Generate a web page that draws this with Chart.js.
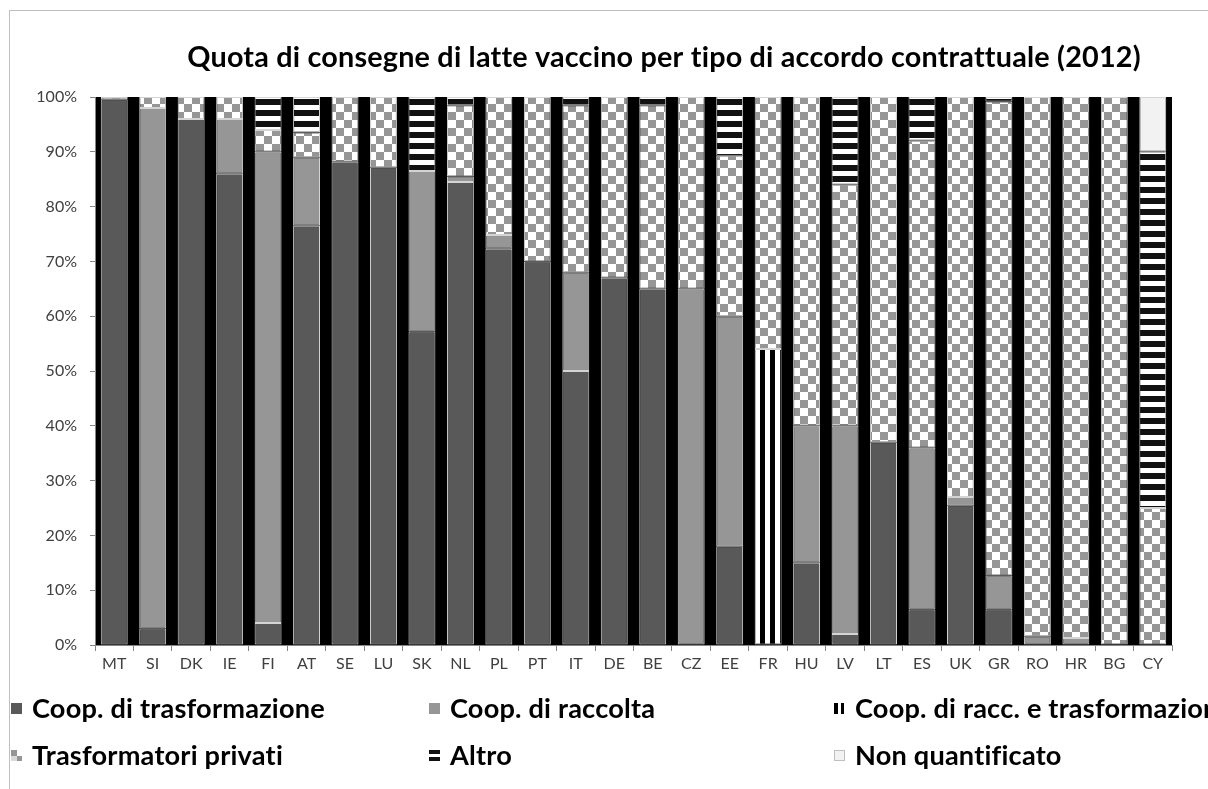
<!DOCTYPE html>
<html>
<head>
<meta charset="utf-8">
<script src="https://cdn.jsdelivr.net/npm/chart.js@4.4.1/dist/chart.umd.min.js"></script>
<style>
  html, body { margin: 0; padding: 0; background: #fff; }
  #wrap { width: 1208px; height: 789px; position: relative; }
</style>
</head>
<body>
<div id="wrap"><canvas id="c" width="1208" height="789"></canvas></div>
<script>
// ---------- DATA ----------
const titleText = 'Quota di consegne di latte vaccino per tipo di accordo contrattuale (2012)';
const categories = ['MT','SI','DK','IE','FI','AT','SE','LU','SK','NL','PL','PT','IT','DE','BE','CZ','EE','FR','HU','LV','LT','ES','UK','GR','RO','HR','BG','CY'];
const seriesNames = ['Coop. di trasformazione','Coop. di raccolta','Coop. di racc. e trasformazione','Trasformatori privati','Altro','Non quantificato'];
const coopTrasformazione   = [99.6, 3, 96, 86, 4, 76.5, 88.2, 87.2, 57.2, 84.5, 72.3, 70, 50, 67, 65, 0, 18, 0, 15, 2, 37, 6.5, 25.5, 6.5, 0, 0, 0, 0];
const coopRaccolta         = [0, 95, 0, 10, 86, 12.5, 0, 0, 29.3, 1, 2.5, 0, 18, 0, 0, 65, 42, 0, 25, 38, 0, 29.5, 1.5, 6.2, 1.6, 1.3, 0, 0];
const coopRaccTrasf        = [0, 0, 0, 0, 0, 0, 0, 0, 0, 0, 0, 0, 0, 0, 0, 0, 0, 54, 0, 0, 0, 0, 0, 0, 0, 0, 0, 0];
const trasformatoriPrivati = [0.4, 2, 4, 4, 4, 4.5, 11.8, 12.8, 0, 13, 25.2, 30, 30.5, 33, 33.5, 35, 29.3, 46, 60, 44, 63, 56, 73, 86.5, 98.4, 98.7, 100, 25];
const altro                = [0, 0, 0, 0, 6, 6.5, 0, 0, 13.5, 1.5, 0, 0, 1.5, 0, 1.5, 0, 10.7, 0, 0, 16, 0, 8, 0, 0.8, 0, 0, 0, 65];
const nonQuantificato      = [0, 0, 0, 0, 0, 0, 0, 0, 0, 0, 0, 0, 0, 0, 0, 0, 0, 0, 0, 0, 0, 0, 0, 0, 0, 0, 0, 10];
const yTicks = [0,10,20,30,40,50,60,70,80,90,100];

// ---------- PATTERNS ----------
function mk(w, h, draw) {
  const cv = document.createElement('canvas'); cv.width = w; cv.height = h;
  const g = cv.getContext('2d'); draw(g); return cv;
}
const tmp = document.createElement('canvas').getContext('2d');
const checker = tmp.createPattern(mk(16,16,g=>{g.fillStyle='#fff';g.fillRect(0,0,16,16);g.fillStyle='#969696';g.fillRect(0,0,8,8);g.fillRect(8,8,8,8);}),'repeat');
const hstripe = tmp.createPattern(mk(4,11,g=>{g.fillStyle='#fff';g.fillRect(0,0,4,11);g.fillStyle='#111';g.fillRect(0,0,4,6);}),'repeat');
const vstripe = tmp.createPattern(mk(10,4,g=>{g.fillStyle='#fff';g.fillRect(0,0,10,4);g.fillStyle='#000';g.fillRect(0,0,5,4);}),'repeat');

const fills = ['#595959', '#969696', vstripe, checker, hstripe, '#f2f2f2'];
const kinds = ['solid','solid','vstripe','checker','hstripe','solid'];
const values = [coopTrasformazione, coopRaccolta, coopRaccTrasf, trasformatoriPrivati, altro, nonQuantificato];

const datasets = values.map((v, i) => ({
  label: seriesNames[i],
  data: v.map(x => x === 0 ? null : x),
  backgroundColor: fills[i],
  borderColor: '#d4d4d4',
  borderWidth: 1,
  borderSkipped: false,
  barPercentage: 0.7,
  categoryPercentage: 1.0,
  kind: kinds[i]
}));

// ---------- FONTS ----------
const LS = '0.2px';
function fit(text, weight, family, target) {
  tmp.font = weight + ' 100px ' + family;
  try { tmp.letterSpacing = '0px'; } catch(e) {}
  const w100 = tmp.measureText(text).width;
  // account for letter spacing added per character
  const extra = 0.2 * text.length;
  return 100 * (target - extra) / w100;
}
const FAM = 'Lato, "Open Sans", sans-serif';
const titleSize = fit(titleText, 'bold', FAM, 952);
const legendSize = fit(seriesNames[0], 'bold', FAM, 293);

// ---------- PLUGINS ----------
const decor = {
  id: 'decor',
  beforeDraw(chart) {
    const ctx = chart.ctx;
    ctx.save();
    ctx.fillStyle = '#fff'; ctx.fillRect(0,0,chart.width,chart.height);
    ctx.strokeStyle = '#bfbfbf'; ctx.lineWidth = 1;
    ctx.strokeRect(9.5, 10.5, 1400, 1000);
    ctx.restore();
  },
  beforeDatasetsDraw(chart) {
    const a = chart.chartArea, ctx = chart.ctx;
    ctx.save(); ctx.fillStyle = '#000';
    ctx.fillRect(a.left + 1, a.top, a.right - a.left - 1, a.bottom - a.top);
    ctx.restore();
  },
  afterDraw(chart) {
    const ctx = chart.ctx;
    ctx.save();
    try { ctx.letterSpacing = LS; } catch(e) {}
    // title
    ctx.fillStyle = '#000';
    ctx.font = 'bold ' + titleSize + 'px ' + FAM;
    ctx.textAlign = 'center'; ctx.textBaseline = 'middle';
    ctx.fillText(titleText, 664, 58);
    // legend
    const cols = [11, 429, 834];
    const rows = [708, 755];
    ctx.font = 'bold ' + legendSize + 'px ' + FAM;
    ctx.textAlign = 'left';
    chart.data.datasets.forEach((ds, i) => {
      const x = cols[i % 3], y = rows[Math.floor(i / 3)];
      const s = 11, top = y - 5;
      if (ds.kind === 'solid') {
        ctx.fillStyle = ds.backgroundColor; ctx.fillRect(x, top, s, s);
        if (i === 5) { ctx.strokeStyle = '#bfbfbf'; ctx.strokeRect(x + 0.5, top + 0.5, s - 1, s - 1); }
      } else if (ds.kind === 'vstripe') {
        ctx.fillStyle = '#000'; ctx.fillRect(x, top, 4, s); ctx.fillRect(x + 7, top, 3, s);
      } else if (ds.kind === 'hstripe') {
        ctx.fillStyle = '#111'; ctx.fillRect(x, top, s, 4); ctx.fillRect(x, top + 7, s, 4);
      } else if (ds.kind === 'checker') {
        ctx.fillStyle = '#d9d9d9'; ctx.fillRect(x, top, s, s);
        ctx.fillStyle = '#969696'; ctx.fillRect(x, top, 6, 6); ctx.fillRect(x + 6, top + 6, 5, 5);
        ctx.fillStyle = '#fff'; ctx.fillRect(x + 6, top, 5, 6);
      }
      ctx.fillStyle = '#000';
      ctx.fillText(ds.label, x + 21, y + 1);
    });
    ctx.restore();
  }
};

new Chart(document.getElementById('c'), {
  type: 'bar',
  data: { labels: categories, datasets },
  options: {
    responsive: false,
    animation: false,
    layout: { padding: { left: 0, right: 36, top: 97, bottom: 104 } },
    plugins: { legend: { display: false }, title: { display: false }, tooltip: { enabled: false } },
    scales: {
      x: {
        stacked: true,
        offset: true,
        grid: { display: true, drawOnChartArea: false, drawTicks: true, tickLength: 6, color: '#868686', offset: true },
        border: { display: true, color: '#868686', width: 1 },
        ticks: { color: '#404040', font: { family: FAM, size: 16 }, padding: 3, maxRotation: 0, autoSkip: false },
        afterFit(s) { s.height = 40; }
      },
      y: {
        stacked: true,
        min: 0, max: 100,
        afterBuildTicks(s) { s.ticks = yTicks.map(v => ({ value: v })); },
        grid: { display: true, drawOnChartArea: false, drawTicks: true, tickLength: 5, color: '#868686' },
        border: { display: true, color: '#868686', width: 1 },
        ticks: { color: '#404040', font: { family: FAM, size: 16 }, padding: 13, callback: v => v + '%' },
        afterFit(s) { s.width = 95; }
      }
    }
  },
  plugins: [decor]
});
</script>
</body>
</html>
